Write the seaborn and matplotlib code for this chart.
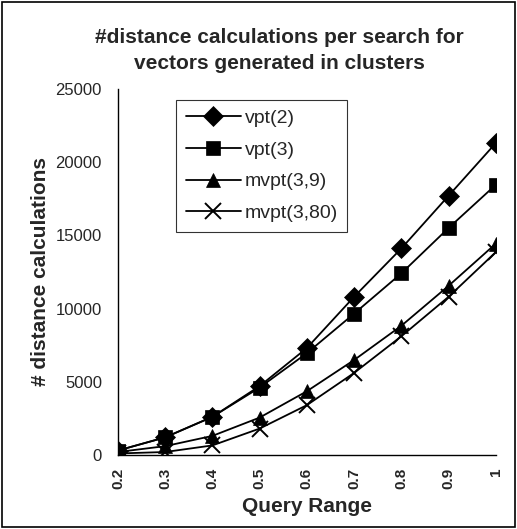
import pandas as pd
import numpy as np
import matplotlib.pyplot as plt
import seaborn as sns

# data
query_range = [0.2, 0.3, 0.4, 0.5, 0.6, 0.7, 0.8, 0.9, 1.0]
range_labels = ["0.2", "0.3", "0.4", "0.5", "0.6", "0.7", "0.8", "0.9", "1"]
vpt2 = [300, 1200, 2600, 4700, 7300, 10800, 14100, 17700, 21300]
vpt3 = [300, 1200, 2600, 4600, 6950, 9650, 12400, 15500, 18450]
mvpt3_9 = [200, 600, 1300, 2550, 4350, 6480, 8820, 11550, 14430]
mvpt3_80 = [100, 200, 650, 1800, 3400, 5600, 8100, 10800, 13850]

series = {
    "vpt(2)": (vpt2, "D"),
    "vpt(3)": (vpt3, "s"),
    "mvpt(3,9)": (mvpt3_9, "^"),
    "mvpt(3,80)": (mvpt3_80, "x"),
}

sns.set_style("white")
plt.rcParams['font.family'] = ['Liberation Sans', 'DejaVu Sans']

fig = plt.figure(figsize=(5.17, 5.29), dpi=100)
ax = fig.add_axes([0.228, 0.140, 0.731, 0.692])

for name, (vals, mk) in series.items():
    df = pd.DataFrame({"range": query_range, "calcs": vals})
    sns.lineplot(data=df, x="range", y="calcs", ax=ax, color="black",
                 marker=mk, markersize=10 if mk != "x" else 11,
                 markeredgewidth=1.4 if mk == "x" else 0.5,
                 markeredgecolor="black", linewidth=1.3, label=name)

ax.set_xlim(0.2, 1.0)
ax.set_ylim(0, 25000)
ax.set_xticks(query_range)
ax.set_xticklabels(range_labels, rotation=90, fontsize=11, fontweight='bold')
ax.set_yticks(np.arange(0, 25001, 5000))
ax.tick_params(axis='y', labelsize=12, direction='inout', length=7, width=1,
               color='black', pad=8)
ax.tick_params(axis='x', direction='inout', length=8, width=1, color='black', pad=5)

for s in ['top', 'right']:
    ax.spines[s].set_visible(False)
for s in ['left', 'bottom']:
    ax.spines[s].set_color('black')
    ax.spines[s].set_linewidth(1)

ax.set_xlabel("Query Range", fontsize=15, fontweight='bold', labelpad=6)
ax.set_ylabel("# distance calculations", fontsize=15, fontweight='bold', labelpad=4)

leg = ax.legend(loc='upper left', bbox_to_anchor=(0.155, 0.97), fontsize=14,
                frameon=True, fancybox=False, edgecolor='black', handlelength=2.8,
                handletextpad=0.2, labelspacing=0.72, borderpad=0.5, borderaxespad=0)
leg.get_frame().set_linewidth(0.8)

fig.suptitle("#distance calculations per search for\nvectors generated in clusters",
             x=0.54, fontsize=15, fontweight='bold', y=0.947, linespacing=1.45)

# outer border
fig.patches.append(plt.Rectangle((0.003, 0.003), 0.994, 0.994, transform=fig.transFigure,
                                 fill=False, edgecolor='black', linewidth=1.2))

plt.savefig("out.png", dpi=100)
